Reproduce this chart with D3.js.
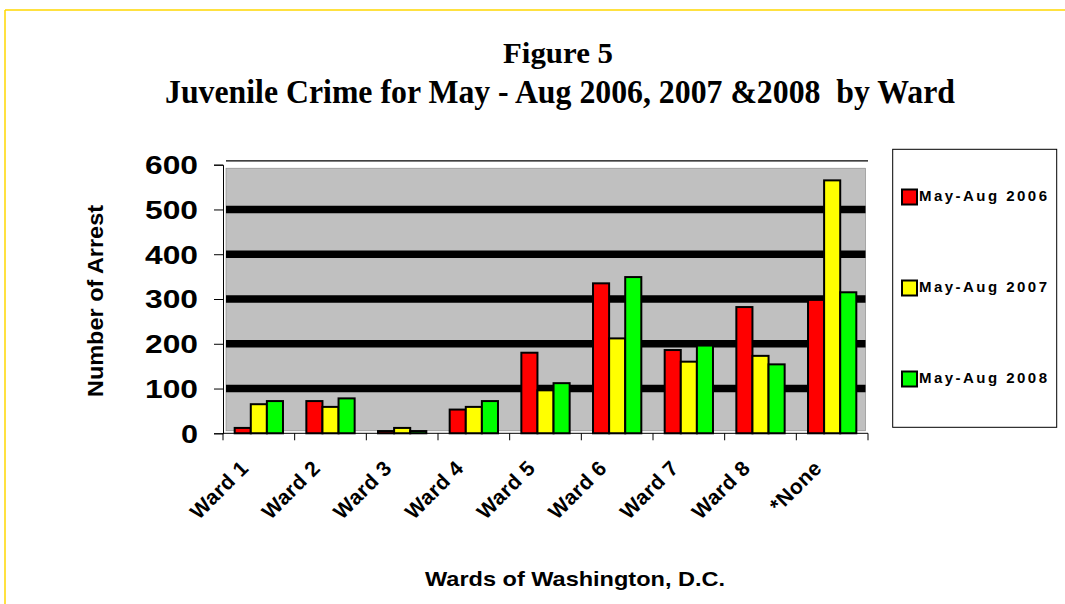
<!DOCTYPE html>
<html>
<head>
<meta charset="utf-8">
<script src="https://cdn.jsdelivr.net/npm/d3@7"></script>
<style>
  html, body { margin: 0; padding: 0; background: #fff; }
  svg text { white-space: pre; }
</style>
</head>
<body>
<svg id="chart" width="1065" height="604"></svg>
<script>
// Juvenile arrests by ward, summer months of three years
const categories = ["Ward 1", "Ward 2", "Ward 3", "Ward 4", "Ward 5", "Ward 6", "Ward 7", "Ward 8", "*None"];
const seriesNames = ["May-Aug 2006", "May-Aug 2007", "May-Aug 2008"];
const arrests2006 = [12, 72, 5, 53, 180, 335, 186, 282, 298];
const arrests2007 = [65, 59, 12, 59, 96, 212, 160, 173, 565];
const arrests2008 = [72, 78, 5, 72, 112, 349, 196, 154, 315];
const yTicks = [0, 100, 200, 300, 400, 500, 600];
const seriesColors = ["#FF0000", "#FFFF00", "#00FF00"];

const allSeries = [arrests2006, arrests2007, arrests2008];
const rows = categories.map((c, i) => ({
  category: c,
  values: seriesNames.map((s, j) => ({ series: s, value: allSeries[j][i] }))
}));

const svg = d3.select("#chart");
const sans = "'Liberation Sans', Arial, sans-serif";
const serif = "'Liberation Serif', 'Times New Roman', serif";

// page frame
svg.append("line").attr("x1", 5).attr("x2", 1065).attr("y1", 10).attr("y2", 10)
  .attr("stroke", "#FFD700").attr("stroke-width", 1.5);
svg.append("line").attr("x1", 5).attr("x2", 5).attr("y1", 10).attr("y2", 604)
  .attr("stroke", "#FFD700").attr("stroke-width", 1.5);

const plotLeft = 223, plotRight = 868, plotTop = 164.7, plotBottom = 433.3;

const x0 = d3.scaleBand().domain(categories).range([plotLeft, plotRight]).paddingInner(0).paddingOuter(0);
const x1 = d3.scaleBand().domain(seriesNames)
  .range([x0.bandwidth() * 0.163, x0.bandwidth() * 0.837]).padding(0);
const y = d3.scaleLinear().domain([0, 600]).range([plotBottom, plotTop]);

// plot background
const bgL = plotLeft + 3, bgR = plotRight - 2.5;
svg.append("rect")
  .attr("x", bgL).attr("y", y(600) + 3.5)
  .attr("width", bgR - bgL).attr("height", y(0) - 2.5 - (y(600) + 3.5))
  .attr("fill", "#C0C0C0").attr("stroke", "#808080").attr("stroke-width", 0.6);

// top frame line
svg.append("line").attr("x1", bgL).attr("x2", plotRight)
  .attr("y1", y(600) - 3.8).attr("y2", y(600) - 3.8)
  .attr("stroke", "#000").attr("stroke-width", 1.4);

// heavy gridlines
svg.append("g").selectAll("line")
  .data(yTicks.filter(t => t > 0 && t < 600))
  .join("line")
  .attr("x1", bgL).attr("x2", bgR)
  .attr("y1", d => y(d)).attr("y2", d => y(d))
  .attr("stroke", "#000").attr("stroke-width", 7.5);

// bars
const groups = svg.append("g").selectAll("g")
  .data(rows).join("g")
  .attr("transform", d => `translate(${x0(d.category)},0)`);
groups.selectAll("rect")
  .data(d => d.values).join("rect")
  .attr("x", d => x1(d.series))
  .attr("width", x1.bandwidth())
  .attr("y", d => y(d.value))
  .attr("height", d => y(0) - y(d.value))
  .attr("fill", (d, i) => seriesColors[i])
  .attr("stroke", "#000").attr("stroke-width", 2);

// y axis
const yAxis = svg.append("g").attr("transform", `translate(${plotLeft},0)`)
  .call(d3.axisLeft(y).tickValues(yTicks).tickSize(9).tickFormat(""));
yAxis.select(".domain").attr("stroke", "#000");
yAxis.selectAll(".tick line").attr("stroke", "#000");
svg.append("g").selectAll("text")
  .data(yTicks).join("text")
  .attr("x", 198).attr("y", d => y(d))
  .attr("dy", "0.36em")
  .attr("text-anchor", "end")
  .attr("font-family", sans).attr("font-weight", "bold").attr("font-size", 26)
  .attr("textLength", d => String(d).length * 18 - 1)
  .attr("lengthAdjust", "spacingAndGlyphs")
  .text(d => d);

// x axis with ticks on category boundaries
const xAxis = svg.append("g").attr("transform", `translate(0,${plotBottom})`);
xAxis.append("line").attr("x1", plotLeft).attr("x2", plotRight).attr("stroke", "#000");
xAxis.selectAll("line.tk")
  .data(categories.concat(["end"])).join("line").attr("class", "tk")
  .attr("x1", (d, i) => i < categories.length ? x0(d) : plotRight)
  .attr("x2", (d, i) => i < categories.length ? x0(d) : plotRight)
  .attr("y1", 0).attr("y2", 7).attr("stroke", "#000");

svg.append("g").selectAll("text")
  .data(categories).join("text")
  .attr("transform", d => `translate(${x0(d) + x0.bandwidth() / 2 - 9},${plotBottom + 36}) rotate(-45)`)
  .attr("text-anchor", "end")
  .attr("font-family", sans).attr("font-weight", "bold").attr("font-size", 21)
  .attr("letter-spacing", 0.5)
  .text(d => d);

// axis titles
svg.append("text")
  .attr("transform", "translate(103,301) rotate(-90)")
  .attr("text-anchor", "middle")
  .attr("font-family", sans).attr("font-weight", "bold").attr("font-size", 22)
  .attr("textLength", 192).attr("lengthAdjust", "spacingAndGlyphs")
  .text("Number of Arrest");
svg.append("text")
  .attr("x", 575).attr("y", 586)
  .attr("text-anchor", "middle")
  .attr("font-family", sans).attr("font-weight", "bold").attr("font-size", 21)
  .attr("textLength", 300).attr("lengthAdjust", "spacingAndGlyphs")
  .text("Wards of Washington, D.C.");

// titles
svg.append("text")
  .attr("x", 558).attr("y", 63)
  .attr("text-anchor", "middle")
  .attr("font-family", serif).attr("font-weight", "bold").attr("font-size", 30)
  .attr("textLength", 110).attr("lengthAdjust", "spacingAndGlyphs")
  .text("Figure 5");
svg.append("text")
  .attr("x", 560).attr("y", 103)
  .attr("text-anchor", "middle")
  .attr("font-family", serif).attr("font-weight", "bold").attr("font-size", 34)
  .attr("textLength", 790).attr("lengthAdjust", "spacingAndGlyphs")
  .text("Juvenile Crime for May - Aug 2006, 2007 &2008  by Ward");

// legend
const legend = svg.append("g");
legend.append("rect")
  .attr("x", 892.7).attr("y", 149.3).attr("width", 164).attr("height", 278)
  .attr("fill", "#fff").attr("stroke", "#000").attr("stroke-width", 1);
const legendY = d3.scalePoint().domain(seriesNames).range([197, 379]);
const items = legend.selectAll("g.item").data(seriesNames).join("g").attr("class", "item")
  .attr("transform", d => `translate(902,${legendY(d)})`);
items.append("rect")
  .attr("x", 0).attr("y", -7.5).attr("width", 15).attr("height", 15)
  .attr("fill", (d, i) => seriesColors[i]).attr("stroke", "#000").attr("stroke-width", 2);
items.append("text")
  .attr("x", 17).attr("y", 4)
  .attr("font-family", sans).attr("font-weight", "bold").attr("font-size", 15)
  .attr("textLength", 128).attr("lengthAdjust", "spacing")
  .text(d => d);
</script>
</body>
</html>
